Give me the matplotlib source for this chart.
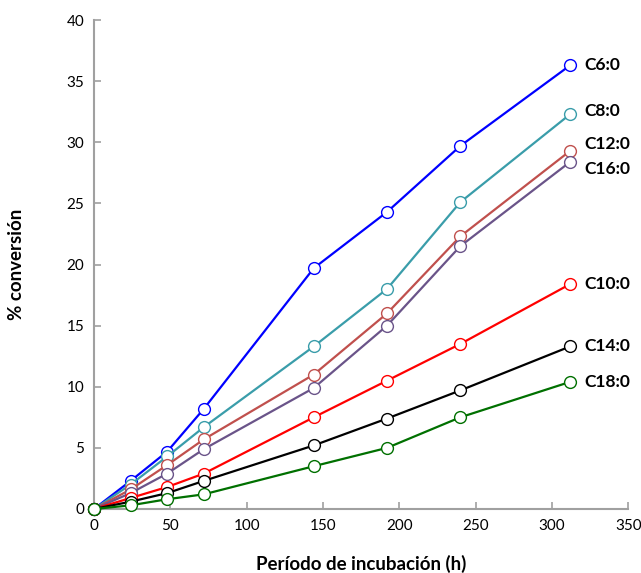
import matplotlib
matplotlib.use("Agg")
import matplotlib.pyplot as plt

plt.rcParams['font.family'] = ['Lato', 'DejaVu Sans']

hours = [0, 24, 48, 72, 144, 192, 240, 312]

c6 = [0, 2.3, 4.7, 8.2, 19.7, 24.3, 29.7, 36.3]
c8 = [0, 2.0, 4.3, 6.7, 13.3, 18.0, 25.1, 32.3]
c12 = [0, 1.6, 3.6, 5.7, 11.0, 16.0, 22.3, 29.3]
c16 = [0, 1.3, 2.9, 4.9, 9.9, 15.0, 21.5, 28.4]
c10 = [0, 0.9, 1.8, 2.9, 7.5, 10.5, 13.5, 18.4]
c14 = [0, 0.6, 1.3, 2.3, 5.2, 7.4, 9.7, 13.3]
c18 = [0, 0.3, 0.8, 1.2, 3.5, 5.0, 7.5, 10.4]

names = ['C6:0', 'C8:0', 'C12:0', 'C16:0', 'C10:0', 'C14:0', 'C18:0']
series = [c6, c8, c12, c16, c10, c14, c18]
colors = ['#0000FF', '#3A9DAA', '#C0504D', '#6A5489', '#FF0000', '#000000', '#007000']
# small vertical nudges so the end labels don't collide
label_offsets = [0.0, 0.3, 0.6, -0.6, 0.0, 0.0, 0.0]

fig = plt.figure(figsize=(6.41, 5.73), dpi=100)
ax = fig.add_axes([0.1466, 0.1117, 0.8334, 0.8533])

for name, vals, col, off in zip(names, series, colors, label_offsets):
    ax.plot(hours, vals, '-o', color=col, lw=1.6, ms=8.5,
            markerfacecolor='white', markeredgecolor=col, markeredgewidth=1.0,
            clip_on=False, zorder=3)
    ax.text(hours[-1] + 9, vals[-1] + off, name, fontsize=12.5, fontweight='bold',
            va='center', ha='left')

ax.set_xlim(0, 350)
ax.set_ylim(0, 40)
ax.set_xticks(range(0, 351, 50))
ax.set_yticks(range(0, 41, 5))

for side in ['top', 'right']:
    ax.spines[side].set_visible(False)
for side in ['left', 'bottom']:
    ax.spines[side].set_color('#A0A0A0')
    ax.spines[side].set_linewidth(1.5)

ax.tick_params(direction='in', color='#A0A0A0', width=1.2, length=5, labelsize=11, pad=7)

ax.set_xlabel('Período de incubación (h)', fontsize=13.5, fontweight='bold', labelpad=16)
ax.set_ylabel('% conversión', fontsize=13.5, fontweight='bold', labelpad=30)

fig.savefig('out.png', dpi=100)
